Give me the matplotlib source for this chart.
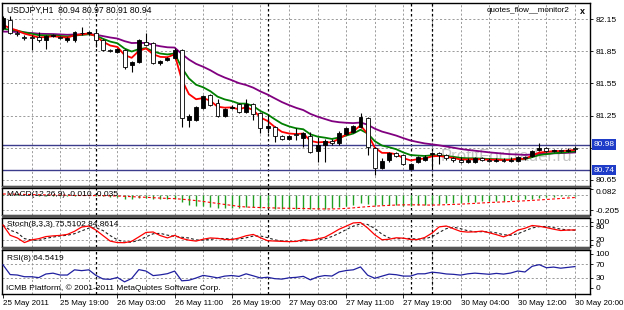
import matplotlib
matplotlib.use("Agg")
import matplotlib.pyplot as plt
from matplotlib.patches import Rectangle
import numpy as np
import pandas as pd

plt.rcParams['font.family'] = ['Liberation Sans', 'DejaVu Sans']

# USDJPY H1, first bar = 25 May 2011 11:00
opens = [82.07, 82.14, 82.02, 81.98, 81.98, 81.98, 81.95, 81.99, 81.98, 81.95,
         81.95, 82.02, 82.02, 82.02, 81.95, 81.86, 81.84, 81.86, 81.72, 81.75,
         81.94, 81.93, 81.74, 81.77, 81.79, 81.86, 81.21, 81.21, 81.32, 81.44,
         81.37, 81.25, 81.32, 81.36, 81.28, 81.36, 81.27, 81.13, 81.14, 81.06,
         81.03, 81.07, 81.04, 81.06, 80.92, 80.98, 81.01, 80.99, 81.08, 81.10,
         81.14, 81.23, 80.95, 80.76, 80.84, 80.90, 80.88, 80.75, 80.82, 80.84,
         80.89, 80.90, 80.88, 80.85, 80.84, 80.82, 80.82, 80.85, 80.84, 80.83,
         80.84, 80.83, 80.83, 80.86, 80.87, 80.93, 80.95, 80.92, 80.93, 80.92,
         80.94]
highs = [82.18, 82.18, 82.04, 82.00, 82.00, 82.03, 82.00, 82.01, 81.99, 81.98,
         82.04, 82.08, 82.04, 82.05, 81.96, 81.87, 81.88, 81.87, 81.76, 81.96,
         82.02, 81.94, 81.77, 81.80, 81.88, 81.87, 81.26, 81.34, 81.44, 81.45,
         81.40, 81.32, 81.35, 81.37, 81.40, 81.37, 81.28, 81.26, 81.15, 81.07,
         81.07, 81.13, 81.10, 81.10, 81.05, 81.03, 81.03, 81.11, 81.14, 81.16,
         81.27, 81.24, 80.96, 80.85, 80.91, 80.91, 80.89, 80.81, 80.87, 80.88,
         80.91, 80.91, 80.89, 80.86, 80.86, 80.85, 80.86, 80.86, 80.85, 80.85,
         80.85, 80.86, 80.87, 80.87, 80.93, 80.99, 80.96, 80.94, 80.94, 80.95,
         80.97]
lows = [82.05, 82.01, 81.99, 81.95, 81.86, 81.94, 81.87, 81.98, 81.96, 81.94,
        81.94, 82.00, 82.00, 81.89, 81.85, 81.84, 81.83, 81.68, 81.66, 81.74,
        81.90, 81.73, 81.72, 81.76, 81.78, 81.14, 81.14, 81.20, 81.31, 81.34,
        81.24, 81.24, 81.31, 81.27, 81.27, 81.21, 81.09, 81.09, 81.00, 81.02,
        81.02, 81.02, 80.96, 80.90, 80.82, 80.82, 80.98, 80.98, 81.07, 81.09,
        81.13, 80.88, 80.70, 80.75, 80.82, 80.86, 80.79, 80.74, 80.81, 80.83,
        80.75, 80.80, 80.84, 80.82, 80.81, 80.81, 80.81, 80.83, 80.82, 80.82,
        80.82, 80.82, 80.82, 80.84, 80.86, 80.92, 80.91, 80.91, 80.91, 80.91,
        80.91]
closes = [82.16, 82.02, 82.01, 81.97, 81.97, 81.95, 81.99, 82.00, 81.97, 81.97,
          82.03, 82.02, 82.03, 81.95, 81.86, 81.85, 81.87, 81.70, 81.75, 81.95,
          81.91, 81.74, 81.76, 81.79, 81.86, 81.23, 81.25, 81.33, 81.43, 81.35,
          81.25, 81.31, 81.33, 81.28, 81.36, 81.26, 81.13, 81.15, 81.06, 81.03,
          81.06, 81.07, 81.09, 80.91, 80.98, 81.01, 80.99, 81.09, 81.13, 81.15,
          81.24, 80.96, 80.76, 80.83, 80.90, 80.87, 80.80, 80.80, 80.86, 80.86,
          80.90, 80.88, 80.85, 80.84, 80.82, 80.84, 80.85, 80.84, 80.83, 80.84,
          80.83, 80.84, 80.86, 80.85, 80.92, 80.95, 80.92, 80.93, 80.92, 80.93,
          80.94]

time_labels = ['25 May 2011', '25 May 19:00', '26 May 03:00', '26 May 11:00',
               '26 May 19:00', '27 May 03:00', '27 May 11:00', '27 May 19:00',
               '30 May 04:00', '30 May 12:00', '30 May 20:00']
time_label_bars = [0, 8, 16, 24, 32, 40, 48, 56, 64, 72, 80]
day_separators = [13, 37, 57, 60]

price_ticks = [82.15, 81.85, 81.55, 81.25, 80.95, 80.65]
price_labels = ['82.15', '81.85', '81.55', '81.25', '', '80.65']
level_lines = [80.98, 80.74]

# moving averages (period, value before first bar, colour)
ma_specs = [(21, 82.02, '#800080'), (8, 82.03, '#008000'), (4, 82.05, '#ff0000')]
macd_seed = 82.03
rsi_seed_gain, rsi_seed_loss = 0.02, 0.01

W, H = 624, 310
LEFT, RIGHT = 2, 590
BAR0_X, BAR_W = 3, 7.15
GRID = '#8c8c8c'


def ema(vals, period, seed):
    k = 2.0 / (period + 1)
    out, prev = [], seed
    for v in vals:
        prev = prev + k * (v - prev)
        out.append(prev)
    return np.array(out)


o, h, l, c = map(np.array, (opens, highs, lows, closes))
xs = np.arange(len(c))

# indicators
macd_main = ema(c, 12, macd_seed) - ema(c, 26, macd_seed)
macd_signal = pd.Series(macd_main).rolling(9, min_periods=1).mean().values

ll = pd.Series(l).rolling(8, min_periods=1).min()
hh = pd.Series(h).rolling(8, min_periods=1).max()
num = (pd.Series(c) - ll).rolling(3, min_periods=1).sum()
den = (hh - ll).rolling(3, min_periods=1).sum()
stoch_k = (100 * num / den).values
stoch_d = pd.Series(stoch_k).rolling(3, min_periods=1).mean().values

ag, al = rsi_seed_gain, rsi_seed_loss
rsi = []
prev = c[0] - 0.01
for v in c:
    d = v - prev
    ag = (ag * 7 + max(d, 0)) / 8
    al = (al * 7 + max(-d, 0)) / 8
    rsi.append(100 - 100 / (1 + ag / al))
    prev = v
rsi = np.array(rsi)

fig = plt.figure(figsize=(W / 100, H / 100), dpi=100)
fig.patch.set_facecolor('white')

# dark separators between the sub-windows
for top, bottom in [(186, 188), (215, 218), (247, 250)]:
    fig.patches.append(Rectangle((LEFT / W, 1 - bottom / H), (RIGHT - LEFT) / W,
                                 (bottom - top) / H, transform=fig.transFigure,
                                 fc='#555555', ec='none', zorder=0))


def panel(top, bottom):
    ax = fig.add_axes([LEFT / W, 1 - bottom / H, (RIGHT - LEFT) / W, (bottom - top) / H])
    ax.set_xlim((LEFT - BAR0_X) / BAR_W, (RIGHT - BAR0_X) / BAR_W)
    for s in ax.spines.values():
        s.set_linewidth(1.0)
        s.set_color('black')
    ax.yaxis.tick_right()
    ax.tick_params(axis='y', labelsize=6, length=2, pad=2, width=0.6)
    ax.tick_params(axis='x', bottom=False, labelbottom=False)
    for b in range(4, len(c), 4):
        ax.axvline(b, color=GRID, lw=0.6, dashes=(2.5, 2.5), zorder=0)
    for b in day_separators:
        ax.axvline(b, color='black', lw=0.9, dashes=(2, 2), zorder=0)
    return ax


# main chart
ax = panel(3, 186)
ax.set_ylim(82.15 - (186 - 19) / 107.3, 82.15 + 16 / 107.3)
ax.set_yticks(price_ticks)
ax.set_yticklabels(price_labels)
for p in price_ticks:
    ax.axhline(p, color=GRID, lw=0.6, dashes=(2.5, 2.5), zorder=0)

for period, seed, col in ma_specs:
    ax.plot(xs, ema(c, period, seed), color=col, lw=1.3, zorder=2)

ax.vlines(xs, l, h, color='black', lw=0.8, zorder=3)
bull = c > o
body_lo = np.minimum(o, c)
body_h = np.maximum(np.abs(c - o), 0.004)
ax.bar(xs, body_h, bottom=body_lo, width=0.55,
       color=np.where(bull, 'black', 'white'), edgecolor='black', lw=0.6, zorder=4)

for lv in level_lines:
    ax.axhline(lv, color='#3c3c8c', lw=1.0, zorder=1)
    ax.text(1.006, lv, f'{lv:.2f}', transform=ax.get_yaxis_transform(),
            fontsize=6, color='white', va='center', ha='left', zorder=6,
            bbox=dict(boxstyle='square,pad=0.2', fc='#1e3cc8', ec='none'))

ax.text(61.2, 80.87, 'ProfitForTrader.ru', fontsize=12, color='#c4c4c4',
        ha='left', va='center', zorder=1, clip_on=True)
ax.text(7, H - 10, 'USDJPY,H1  80.94 80.97 80.91 80.94', transform=None,
        fontsize=6.2, va='center', ha='left')
ax.text(487, H - 11, 'quotes_flow__monitor2', transform=None,
        fontsize=5.8, va='center', ha='left')
ax.text(580, H - 11, 'x', transform=None, fontsize=6.5, fontweight='bold',
        va='center', ha='left')

# MACD
ax2 = panel(188, 215)
ax2.set_ylim(-0.27, 0.09)
ax2.set_yticks([0.082, -0.205])
ax2.set_yticklabels(['0.082', '-0.205'])
ax2.get_yticklabels()[0].set_va('top')
for v in (0.0, -0.205):
    ax2.axhline(v, color=GRID, lw=0.6, dashes=(2.5, 2.5), zorder=0)
ax2.vlines(xs, 0, macd_main, color='#20a020', lw=1.0, zorder=2)
ax2.plot(xs, macd_signal, color='#ff0000', lw=0.8, dashes=(2.5, 2), zorder=3)
ax2.text(7, H - 194, 'MACD(12,26,9) -0.010 -0.035', transform=None,
         fontsize=6, va='center', ha='left')

# Stochastic
ax3 = panel(218, 247)
ax3.set_ylim(-(247 - 244.5) / 0.23, 100 + (221.5 - 218) / 0.23)
ax3.set_yticks([100, 80, 20, 0])
ax3.set_yticklabels(['100', '80', '20', '0'])
for v in (80, 20):
    ax3.axhline(v, color=GRID, lw=0.6, dashes=(2.5, 2.5), zorder=0)
ax3.plot(xs, stoch_k, color='#ff0000', lw=0.9, zorder=3)
ax3.plot(xs, stoch_d, color='#202020', lw=0.8, dashes=(2.5, 2), zorder=2)
ax3.text(7, H - 225, 'Stoch(8,3,3) 75.5102 84.8614', transform=None,
         fontsize=6, va='center', ha='left')

# RSI
ax4 = panel(250, 294)
ax4.set_ylim(100 - (294 - 254) / 0.34, 100 + (254 - 250) / 0.34)
ax4.set_yticks([100, 70, 30, 0])
ax4.set_yticklabels(['100', '70', '30', '0'])
for v in (70, 30):
    ax4.axhline(v, color=GRID, lw=0.6, dashes=(2.5, 2.5), zorder=0)
ax4.plot(xs, rsi, color='#2020a0', lw=0.9, zorder=3)
ax4.text(7, H - 258, 'RSI(8) 64.5419', transform=None,
         fontsize=6, va='center', ha='left')
ax4.text(6, H - 288, 'ICMB Platform, \u00a9 2001-2011 MetaQuotes Software Corp.',
         transform=None, fontsize=6, va='center', ha='left')

ax4.tick_params(axis='x', bottom=True, labelbottom=True, labelsize=5.8,
                length=3, width=0.6, pad=1)
ax4.set_xticks(time_label_bars)
ax4.set_xticklabels(time_labels)
for t in ax4.get_xticklabels():
    t.set_ha('left')

fig.savefig('out.png', dpi=100, facecolor='white')
